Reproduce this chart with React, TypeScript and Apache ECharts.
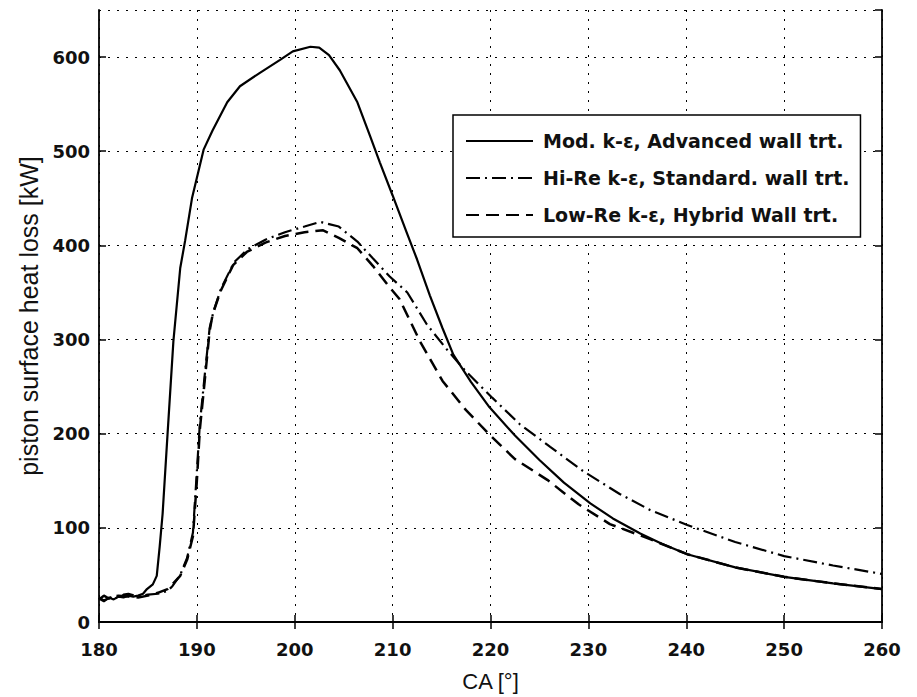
import React, { useEffect, useRef } from "react";
import * as echarts from "echarts";

const xTicks = { min: 180, max: 260, interval: 10 };
const yTicks = { min: 0, max: 650, interval: 100 };

const seriesNames = [
  "Mod. k-ε, Advanced wall trt.",
  "Hi-Re k-ε, Standard. wall trt.",
  "Low-Re k-ε, Hybrid Wall trt.",
];

const modX = [180, 180.5, 181, 181.5, 182, 182.5, 183, 183.5, 184, 184.5, 184.9, 185.5, 185.9, 186.2, 186.5, 187, 187.6, 188.3, 188.8, 189.5, 190.7, 191.6, 193.1, 194.4, 196.4, 198.5, 199.8, 201.6, 202.5, 203.5, 204.6, 206.4, 207.7, 208.7, 210, 211.5, 212.5, 213.8, 215.1, 216.2, 218, 219.9, 222.5, 225, 227.5, 230.2, 232.5, 235.3, 237.5, 240.1, 245, 250, 255, 260];
const modY = [25, 22, 26, 24, 27, 26, 28, 27, 28, 30, 35, 40, 49, 80, 115, 199, 298, 376, 405, 450, 502, 522, 552, 569, 583, 597, 606, 611, 610, 602, 586, 552, 516, 488, 453, 412, 385, 347, 312, 284, 255, 228, 198, 172, 148, 126, 110, 94, 83, 72, 58, 48, 41, 35];

const hiReX = [180, 180.5, 181, 181.5, 182, 182.5, 183, 184, 185, 186, 187, 187.5, 188.3, 189, 189.6, 190, 190.3, 190.8, 191.3, 191.7, 192.5, 193.8, 195.2, 197, 199, 201, 202.6, 204.5, 206.4, 208, 209.7, 211.5, 213.5, 215.5, 217.5, 220.2, 223, 226.1, 229.5, 233.2, 236.3, 240.1, 245, 250, 255, 260];
const hiReY = [26, 23, 25, 28, 24, 29, 30, 27, 29, 30, 33, 38, 50, 68, 95, 160, 210, 262, 312, 330, 355, 382, 396, 406, 414, 420, 425, 420, 404, 386, 367, 350, 316, 290, 266, 238, 210, 186, 160, 136, 119, 103, 85, 70, 60, 51];

const lowReX = [180, 180.5, 181, 181.5, 182, 183, 184, 185, 186, 187, 187.5, 188.3, 189, 189.6, 190, 190.3, 190.8, 191.3, 191.6, 192.4, 193.7, 195.1, 197, 199, 201, 202.9, 204.5, 206.4, 208, 209.5, 210.7, 212.8, 215.1, 217.5, 219.9, 222.5, 225.8, 229, 232.2, 236.3, 240.1, 245, 250, 255, 260];
const lowReY = [24, 28, 25, 27, 28, 27, 26, 28, 31, 35, 40, 49, 66, 91, 150, 204, 256, 309, 326, 351, 379, 393, 403, 410, 414, 416, 408, 397, 378, 358, 343, 298, 256, 225, 199, 173, 151, 125, 104, 88, 72, 58, 48, 41, 35];

const zip = (xs: number[], ys: number[]) => xs.map((x, i) => [x, ys[i]]);

const BOLD_FONT = "DejaVu Sans";
const TITLE_FONT = "Liberation Sans";

export default function App() {
  const ref = useRef<HTMLDivElement>(null);
  useEffect(() => {
    if (!ref.current) return;
    const chart = echarts.init(ref.current, null, { renderer: "svg" });
    const gridLine = { show: true, lineStyle: { color: "#000", type: [2, 7], width: 1 } };
    const tickInside = { show: true, inside: true, length: 7, lineStyle: { color: "#000", width: 1.5 } };
    const axisLine = { show: true, lineStyle: { color: "#000", width: 1.8 } };
    const noSymbol = { color: "rgba(0,0,0,0)", borderWidth: 0 };
    chart.setOption({
      animation: false,
      backgroundColor: "#fff",
      grid: { left: 99, right: 35, top: 10, bottom: 71, containLabel: false },
      legend: {
        orient: "vertical",
        left: 453,
        top: 115,
        padding: [16, 11, 12, 12],
        itemWidth: 67,
        itemHeight: 14,
        itemGap: 17,
        backgroundColor: "#fff",
        borderColor: "#000",
        borderWidth: 1.5,
        borderRadius: 0,
        selectedMode: false,
        itemStyle: { opacity: 0 },
        textStyle: {
          fontFamily: BOLD_FONT,
          fontSize: 19,
          lineHeight: 20,
          fontWeight: "bold",
          color: "#111",
          padding: [0, 0, 0, 5],
        },
        data: seriesNames,
      },
      xAxis: [
        {
          type: "value",
          ...xTicks,
          name: "CA [°]",
          nameLocation: "middle",
          nameGap: 59,
          nameTextStyle: { fontFamily: TITLE_FONT, fontSize: 22, color: "#111", verticalAlign: "middle" },
          axisLine,
          axisTick: tickInside,
          axisLabel: { fontFamily: BOLD_FONT, fontSize: 18, fontWeight: "bold", color: "#111", margin: 18 },
          splitLine: gridLine,
        },
        {
          type: "value",
          position: "top",
          ...xTicks,
          axisLine,
          axisTick: tickInside,
          axisLabel: { show: false },
          splitLine: { show: false },
        },
      ],
      yAxis: [
        {
          type: "value",
          ...yTicks,
          name: "piston surface heat loss [kW]",
          nameLocation: "middle",
          nameGap: 64,
          nameRotate: 90,
          nameTextStyle: { fontFamily: TITLE_FONT, fontSize: 25, color: "#111", verticalAlign: "middle" },
          axisLine,
          axisTick: tickInside,
          axisLabel: {
            fontFamily: BOLD_FONT,
            fontSize: 18,
            fontWeight: "bold",
            color: "#111",
            margin: 9,
            showMaxLabel: false,
            padding: [6, 0, 0, 0],
          },
          splitLine: gridLine,
        },
        {
          type: "value",
          position: "right",
          ...yTicks,
          axisLine,
          axisTick: tickInside,
          axisLabel: { show: false },
          splitLine: { show: false },
        },
      ],
      series: [
        {
          name: seriesNames[0],
          type: "line",
          symbol: "none",
          data: zip(modX, modY),
          lineStyle: { color: "#000", width: 2.2, type: "solid" },
          itemStyle: noSymbol,
          z: 3,
        },
        {
          name: seriesNames[1],
          type: "line",
          symbol: "none",
          data: zip(hiReX, hiReY),
          lineStyle: { color: "#000", width: 2.2, type: [14, 5, 2, 5] },
          itemStyle: noSymbol,
          z: 2,
        },
        {
          name: seriesNames[2],
          type: "line",
          symbol: "none",
          data: zip(lowReX, lowReY),
          lineStyle: { color: "#000", width: 2.5, type: [13, 7] },
          itemStyle: noSymbol,
          z: 2,
        },
      ],
    });
    return () => chart.dispose();
  }, []);
  return (
    <div
      ref={ref}
      style={{ position: "fixed", left: 0, top: 0, width: 917, height: 697, background: "#fff" }}
    />
  );
}
